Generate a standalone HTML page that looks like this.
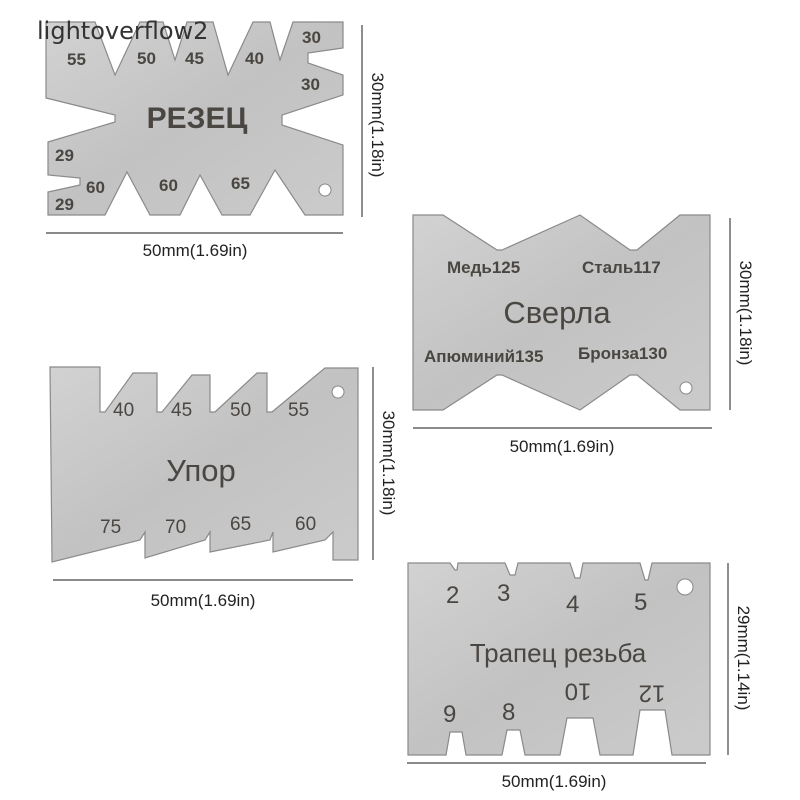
<!DOCTYPE html>
<html><head><meta charset="utf-8"><style>
html,body{margin:0;padding:0;background:#fff;}
svg{display:block;}
</style></head><body>
<svg width="800" height="800" viewBox="0 0 800 800" xmlns="http://www.w3.org/2000/svg" font-family="Liberation Sans, DejaVu Sans, sans-serif">
<defs>
<linearGradient id="m" x1="0" y1="0" x2="1" y2="1">
<stop offset="0" stop-color="#d2d2d2"/><stop offset="0.5" stop-color="#c2c2c2"/><stop offset="1" stop-color="#cbcbcb"/>
</linearGradient>
</defs>
<g fill="url(#m)" stroke="#8a8a8a" stroke-width="1.2">
<path d="M46,22 L95,22 L115,75 L140,22 L163,22 L175,60 L187,22 L213,22 L228,75 L253,22 L270,22 L280,60 L293,22 L343,22 L343,48 L308,53 L308,63 L343,75 L343,95 L282,115 L282,125 L343,145 L343,215 L305,215 L275,170 L250,215 L222,215 L200,175 L180,215 L150,215 L127,172 L105,215 L48,215 L48,192 L80,185 L80,178 L48,175 L48,142 L115,122 L115,115 L46,98 Z"/>
<path d="M413,215 L443,215 L497,250 L502,250 L580,215 L630,250 L637,250 L680,215 L710,215 L710,410 L680,410 L637,375 L630,375 L580,410 L502,375 L497,375 L443,410 L413,410 Z"/>
<path d="M50,367 L100,367 L100,412 L105,412 L133,373 L157,373 L157,412 L162,412 L192,375 L210,375 L210,412 L215,412 L257,373 L267,373 L267,412 L272,412 L325,368 L358,368 L358,560 L333,560 L333,532 L325,540 L273,552 L273,532 L270,540 L210,552 L210,532 L205,540 L145,558 L145,532 L140,540 L52,562 Z"/>
<path d="M408,563 L450,563 L455,570 L457,570 L458,563 L505,563 L510,575 L515,575 L518,563 L570,563 L575,578 L580,578 L583,563 L640,563 L645,580 L648,580 L652,563 L710,563 L710,755 L672,755 L665,710 L640,710 L633,755 L600,755 L593,718 L567,718 L560,755 L525,755 L520,730 L507,730 L502,755 L466,755 L462,732 L450,732 L446,755 L408,755 Z"/>
</g>
<g fill="#fff" stroke="#888" stroke-width="1">
<circle cx="325" cy="190" r="6"/>
<circle cx="686" cy="388" r="6"/>
<circle cx="338" cy="392" r="6"/>
<circle cx="685" cy="587" r="8"/>
</g>
<g fill="#4a4642" font-weight="bold">
<g font-size="17">
<text x="67" y="65">55</text><text x="137" y="64">50</text><text x="185" y="64">45</text><text x="245" y="64">40</text>
<text x="302" y="43">30</text><text x="301" y="90">30</text>
<text x="55" y="161">29</text><text x="55" y="210">29</text>
<text x="86" y="193">60</text><text x="159" y="191">60</text><text x="231" y="189">65</text>
</g>
<text x="197" y="128" font-size="30" text-anchor="middle">РЕЗЕЦ</text>
<g font-size="17">
<text x="447" y="273">Медь125</text><text x="582" y="273">Сталь117</text>
<text x="424" y="362">Апюминий135</text><text x="578" y="359">Бронза130</text>
</g>
<text x="557" y="323" font-size="31" text-anchor="middle" font-weight="normal">Сверла</text>
<g font-size="19" font-weight="normal">
<text x="113" y="416">40</text><text x="171" y="416">45</text><text x="230" y="416">50</text><text x="288" y="416">55</text>
<text x="100" y="533">75</text><text x="165" y="533">70</text><text x="230" y="530">65</text><text x="295" y="530">60</text>
</g>
<text x="201" y="481" font-size="31" text-anchor="middle" font-weight="normal">Упор</text>
<g font-size="24" font-weight="normal">
<text x="446" y="603">2</text><text x="497" y="601">3</text><text x="566" y="612">4</text><text x="634" y="610">5</text>
<text x="443" y="722">9</text><text x="502" y="720">8</text>
<text x="578" y="690" transform="rotate(180 578 690)" text-anchor="middle" dominant-baseline="middle">10</text>
<text x="652" y="692" transform="rotate(180 652 692)" text-anchor="middle" dominant-baseline="middle">12</text>
</g>
<text x="558" y="662" font-size="26" text-anchor="middle" font-weight="normal">Трапец резьба</text>
</g>
<text x="37" y="39" font-size="24" fill="#333" font-family="DejaVu Sans, sans-serif">lightoverflow2</text>
<g stroke="#444" stroke-width="1.2">
<line x1="46" y1="233" x2="343" y2="233"/><line x1="362" y1="25" x2="362" y2="217"/>
<line x1="413" y1="428" x2="712" y2="428"/><line x1="730" y1="218" x2="730" y2="410"/>
<line x1="53" y1="580" x2="353" y2="580"/><line x1="373" y1="367" x2="373" y2="560"/>
<line x1="407" y1="763" x2="706" y2="763"/><line x1="728" y1="563" x2="728" y2="755"/>
</g>
<g fill="#222" font-size="17" text-anchor="middle">
<text x="195" y="256">50mm(1.69in)</text>
<text x="562" y="452">50mm(1.69in)</text>
<text x="203" y="606">50mm(1.69in)</text>
<text x="554" y="787">50mm(1.69in)</text>
<text transform="translate(372,125) rotate(90)">30mm(1.18in)</text>
<text transform="translate(740,313) rotate(90)">30mm(1.18in)</text>
<text transform="translate(383,463) rotate(90)">30mm(1.18in)</text>
<text transform="translate(738,658) rotate(90)">29mm(1.14in)</text>
</g>
</svg>
</body></html>
